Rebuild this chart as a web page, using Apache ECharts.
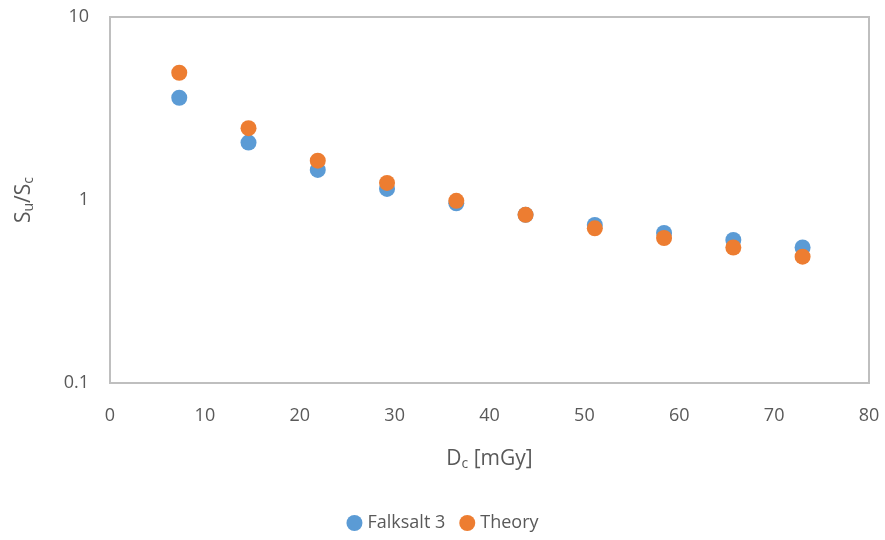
<!DOCTYPE html>
<html><head><meta charset="utf-8">
<script src="https://cdn.jsdelivr.net/npm/echarts@6/dist/echarts.min.js"></script>
<style>html,body{margin:0;padding:0;background:#fff}#c{width:885px;height:540px}</style>
</head><body><div id="c"></div>
<script>
const dose = [7.3, 14.6, 21.9, 29.2, 36.5, 43.8, 51.1, 58.4, 65.7, 73.0];
const falksalt = [3.62, 2.06, 1.46, 1.15, 0.96, 0.83, 0.73, 0.66, 0.605, 0.55];
const theory = [4.96, 2.47, 1.64, 1.24, 0.99, 0.83, 0.70, 0.62, 0.55, 0.49];
const seriesNames = ['Falksalt 3', 'Theory'];
const colors = ['#5b9bd5', '#ed7d31'];
const font = '"Liberation Sans Narrow", "Open Sans", sans-serif';
const chart = echarts.init(document.getElementById('c'));
const pts = arr => dose.map((d, i) => [d, arr[i]]);
chart.setOption({
  animation: false,
  textStyle: {fontFamily: font},
  grid: {left: 110, right: 16, top: 17, bottom: 157, show: true, borderColor: '#bfbfbf', borderWidth: 2, backgroundColor: 'transparent'},
  legend: {
    bottom: 3, left: 'center', itemWidth: 16, itemHeight: 16, itemGap: 14,
    data: seriesNames.map(n => ({name: n, icon: 'circle'})),
    textStyle: {fontFamily: font, fontSize: 18, color: '#595959'}
  },
  xAxis: {
    type: 'value', min: 0, max: 80, interval: 10,
    axisLine: {show: false}, axisTick: {show: false}, splitLine: {show: false},
    axisLabel: {fontSize: 18, color: '#595959', margin: 24, fontFamily: font},
    name: '{a|D}{b|c}{a| [mGy]}', nameLocation: 'middle', nameGap: 64,
    nameTextStyle: {rich: {a: {fontSize: 21, color: '#595959', fontFamily: font}, b: {fontSize: 14, color: '#595959', fontFamily: font, padding: [10, 0, 0, 0]}}}
  },
  yAxis: {
    type: 'log', logBase: 10, min: 0.1, max: 10,
    axisLine: {show: false}, axisTick: {show: false}, splitLine: {show: false},
    axisLabel: {fontSize: 18, color: '#595959', margin: 21, fontFamily: font, formatter: v => String(+v.toPrecision(3))},
    name: '{a|S}{b|u}{a|/S}{b|c}', nameLocation: 'middle', nameGap: 74, nameRotate: 90,
    nameTextStyle: {rich: {a: {fontSize: 21, color: '#595959', fontFamily: font}, b: {fontSize: 14, color: '#595959', fontFamily: font, padding: [10, 0, 0, 0]}}}
  },
  series: [
    {name: seriesNames[0], type: 'scatter', data: pts(falksalt), symbolSize: 16, itemStyle: {color: colors[0], opacity: 1}},
    {name: seriesNames[1], type: 'scatter', data: pts(theory), symbolSize: 16, itemStyle: {color: colors[1], opacity: 1}}
  ]
});
</script></body></html>
